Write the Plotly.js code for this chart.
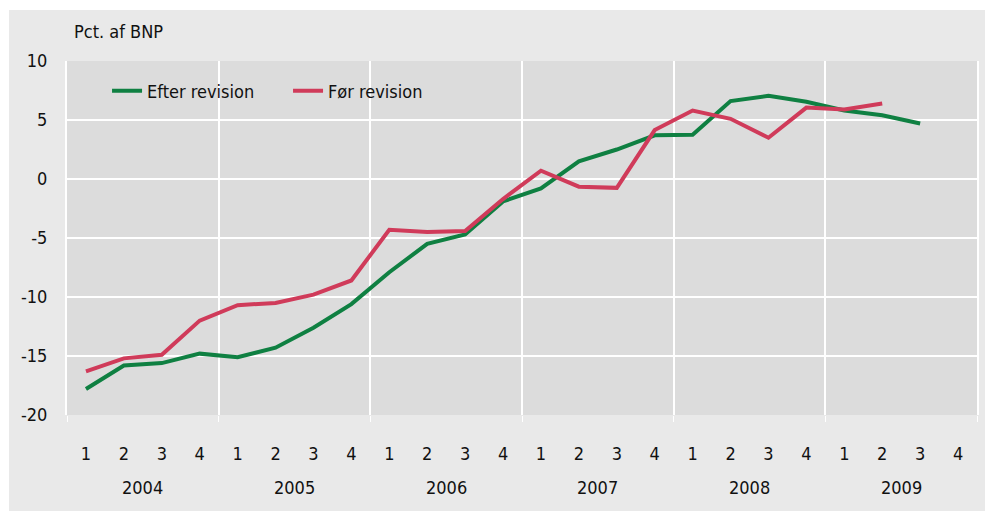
<!DOCTYPE html>
<html>
<head>
<meta charset="utf-8">
<script src="https://cdn.plot.ly/plotly-3.0.1.min.js"></script>
<style>
html,body{margin:0;padding:0;background:#fff;}
#chart{position:absolute;left:9px;top:10px;width:976px;height:501px;}
</style>
</head>
<body>
<div id="chart"></div>
<script>
const years = ["2004","2005","2006","2007","2008","2009"];
const quarters = ["1","2","3","4"];
const efterRevision = [-17.8,-15.8,-15.6,-14.8,-15.1,-14.3,-12.6,-10.6,-7.9,-5.5,-4.7,-1.9,-0.8,1.5,2.5,3.7,3.75,6.6,7.05,6.55,5.8,5.4,4.7];
const forRevision = [-16.3,-15.2,-14.9,-12.0,-10.7,-10.5,-9.8,-8.6,-4.3,-4.5,-4.4,-1.7,0.7,-0.65,-0.75,4.15,5.8,5.1,3.5,6.05,5.9,6.4];
const yTicks = [-20,-15,-10,-5,0,5,10];
const yTickLabels = ["-20","-15","-10","-5","0","5","10"];

const FONT = "'DejaVu Sans Condensed','Roboto',sans-serif";
const FS = 18;

const idx = [];
const qLabels = [];
years.forEach((y,i)=>quarters.forEach((q,j)=>{idx.push(i*4+j);qLabels.push(q);}));
const nQ = idx.length;
const boundaries = years.map((y,i)=>i*4-0.5).concat([nQ-0.5]);

const traces = [
  {x: idx.slice(0,efterRevision.length), y: efterRevision, type:'scatter', mode:'lines',
   name:'Efter revision', line:{color:'#0f8042', width:4}},
  {x: idx.slice(0,forRevision.length), y: forRevision, type:'scatter', mode:'lines',
   name:'Før revision', line:{color:'#d03b5a', width:4}},
  {x:[0], y:[null], xaxis:'x2', yaxis:'y', showlegend:false, hoverinfo:'skip'}
];

const annotations = years.map((y,i)=>({
  x: i*4+1.5, xref:'x', y:-0.205, yref:'paper', text:y, showarrow:false,
  font:{family:FONT, size:FS, color:'#111'}, yanchor:'middle'
}));
annotations.push({x:0.005, xref:'paper', xanchor:'left', y:1.083, yref:'paper', yanchor:'middle',
  text:'Pct. af BNP', showarrow:false, font:{family:FONT, size:FS, color:'#111'}});

const layout = {
  width:976, height:501,
  margin:{l:58, r:8, t:51, b:96},
  paper_bgcolor:'#e9e9e9', plot_bgcolor:'#dcdcdc',
  font:{family:FONT, size:FS, color:'#111'},
  showlegend:true,
  legend:{orientation:'h', x:0.044, y:0.915, xanchor:'left', yanchor:'middle',
    bgcolor:'rgba(0,0,0,0)', font:{family:FONT, size:FS, color:'#111'},
    entrywidth:136, entrywidthmode:'pixels'},
  xaxis:{range:[-0.5,nQ-0.5], tickvals:idx, ticktext:qLabels, showgrid:false, zeroline:false,
    ticks:'outside', ticklen:22, tickcolor:'rgba(0,0,0,0)', tickfont:{family:FONT,size:FS,color:'#111'},
    fixedrange:true},
  xaxis2:{overlaying:'x', matches:'x', range:[-0.5,nQ-0.5], side:'bottom', anchor:'y',
    tickvals:boundaries, showticklabels:false, showgrid:true, gridcolor:'#ffffff', gridwidth:2,
    ticks:'outside', ticklen:6, tickcolor:'#ffffff', tickwidth:1, zeroline:false},
  yaxis:{range:[-20,10], tickvals:yTicks, ticktext:yTickLabels, showgrid:true, gridcolor:'#ffffff', gridwidth:2,
    zeroline:false, ticks:'outside', ticklen:14, tickcolor:'rgba(0,0,0,0)',
    tickfont:{family:FONT,size:FS,color:'#111'}, showline:true, linecolor:'#ffffff', linewidth:2, mirror:true},
  annotations: annotations
};

Plotly.newPlot('chart', traces, layout, {displayModeBar:false, staticPlot:true});
</script>
</body>
</html>
